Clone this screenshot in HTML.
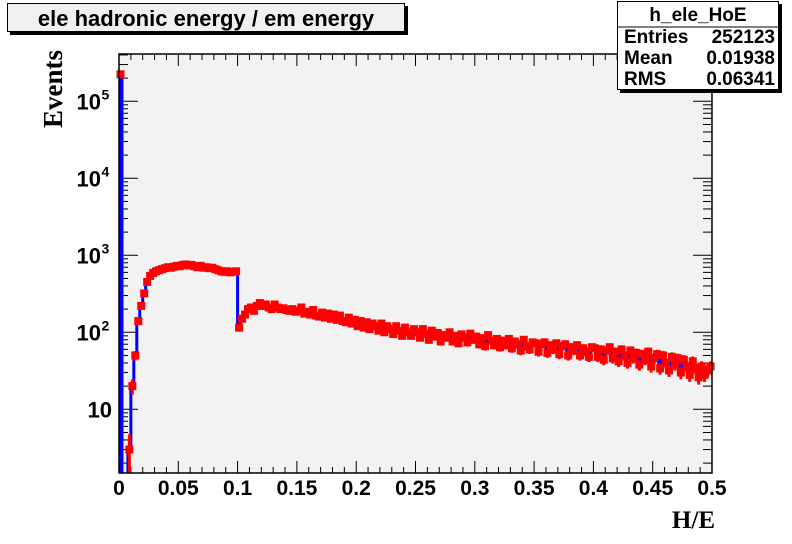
<!DOCTYPE html>
<html><head><meta charset="utf-8"><style>
html,body{margin:0;padding:0;background:#fff}
svg{display:block}
text{font-family:"Liberation Sans",Arial,sans-serif;font-weight:bold;fill:#000}
.serif{font-family:"Liberation Serif","Times New Roman",serif}
</style></head><body>
<svg id="chart" width="792" height="544" viewBox="0 0 792 544">
<rect x="0" y="0" width="792" height="544" fill="#fff"/>
<g>
<rect x="10" y="6" width="398" height="29" fill="#000"/>
<rect x="7.5" y="3.5" width="397" height="28" fill="#f0f0f0" stroke="#000" stroke-width="1"/>
<text x="206" y="26" text-anchor="middle" font-size="22">ele hadronic energy / em energy</text>
</g>
<rect x="119" y="54" width="593" height="419" fill="#f2f2f2"/>
<g id="axes"></g>
<g id="marks"></g>
<rect x="119" y="54" width="593" height="419" fill="none" stroke="#000" stroke-width="1.5"/>
<text x="62" y="89" transform="rotate(-90 62 89)" text-anchor="middle" class="serif" font-size="27">Events</text>
<text x="715" y="528" text-anchor="end" class="serif" font-size="25">H/E</text>
<g>
<rect x="620" y="4" width="162" height="89" fill="#000"/>
<rect x="617.5" y="1.5" width="161" height="88" fill="#fff" stroke="#000" stroke-width="1"/>
<line x1="617.5" y1="27" x2="778.5" y2="27" stroke="#000" stroke-width="1"/>
<text x="698" y="21" text-anchor="middle" font-size="19">h_ele_HoE</text>
<text x="624" y="43" font-size="19">Entries</text>
<text x="775" y="43" text-anchor="end" font-size="19">252123</text>
<text x="624" y="64" font-size="19">Mean</text>
<text x="775" y="64" text-anchor="end" font-size="19">0.01938</text>
<text x="624" y="85" font-size="19">RMS</text>
<text x="775" y="85" text-anchor="end" font-size="19">0.06341</text>
</g>
</svg>
<script>
const binWidth = 0.0025;
const xTickValues = [0,0.05,0.1,0.15,0.2,0.25,0.3,0.35,0.4,0.45,0.5];
const xTickLabels = ["0","0.05","0.1","0.15","0.2","0.25","0.3","0.35","0.4","0.45","0.5"];
const yDecades = [1,2,3,4,5];
const yTickLabels = ["10","10","10","10","10"];
const yTickSups = ["","2","3","4","5"];
const counts = [
224000,0,0,3,20,50,140,220,320,450,
540,590,620,640,660,680,700,690,710,730,
720,750,760,740,750,720,700,730,690,700,
680,690,660,640,620,610,620,600,610,620,
115,150,170,200,210,190,220,240,220,230,
210,200,230,210,200,205,195,190,200,185,
190,210,175,185,170,195,165,160,180,155,
175,150,170,145,165,140,135,155,130,145,
120,140,115,135,110,130,120,105,130,100,
120,110,95,120,105,90,115,100,90,110,
100,85,110,95,80,105,88,98,76,92,
85,100,76,90,72,94,85,74,96,80,
88,70,84,66,92,78,68,82,64,78,
68,82,62,76,70,58,80,66,60,74,
72,56,70,74,54,68,60,72,52,66,
70,50,64,58,68,50,62,56,48,64,
62,48,60,44,58,64,46,56,42,60,
50,40,58,46,54,38,52,44,56,36,
46,52,34,50,40,32,48,38,46,30,
44,36,28,42,34,26,36,28,32,36];

const X0=119,X1=712,Ytop=54,Ybot=473;
const xMin=0,xMax=0.5;
const dec1Y=409.3, pxPerDec=77;
function xs(v){return X0+(v-xMin)/(xMax-xMin)*(X1-X0);}
function ys(v){ if(v<=0) return Ybot+5; const y=dec1Y-(Math.log10(v)-1)*pxPerDec; return Math.min(Math.max(y,Ytop),Ybot+5);}
const NS="http://www.w3.org/2000/svg";
function mk(tag,attrs,parent){const e=document.createElementNS(NS,tag);for(const k in attrs)e.setAttribute(k,attrs[k]);parent.appendChild(e);return e;}
const axes=document.getElementById('axes');
const marks=document.getElementById('marks');

for(let i=0;i<=50;i++){
  const v=i*0.01; const x=xs(v);
  const major=(i%5===0); const len=major?12:6;
  const t=mk('line',{x1:x,y1:Ybot,x2:x,y2:Ybot-len,stroke:'#000','stroke-width':1},axes);
  
  
  const t2=mk('line',{x1:x,y1:Ytop,x2:x,y2:Ytop+len,stroke:'#000','stroke-width':1},axes);
  
  
}
xTickValues.forEach((v,i)=>{
  const t=mk('text',{x:xs(v),y:495,'text-anchor':'middle','font-size':21},axes);
  t.textContent=xTickLabels[i];
  
  
});
for(let d=0;d<=5;d++){
  for(let m=1;m<=9;m++){
    const v=m*Math.pow(10,d); const lv=Math.log10(v);
    const y=dec1Y-(lv-1)*pxPerDec;
    if(y<Ytop||y>Ybot) continue;
    const len=(m===1)?19:9;
    const t=mk('line',{x1:X0,y1:y,x2:X0+len,y2:y,stroke:'#000','stroke-width':1},axes);
    
    
    const t2=mk('line',{x1:X1,y1:y,x2:X1-len,y2:y,stroke:'#000','stroke-width':1},axes);
    
    
  }
}
yDecades.forEach((d,i)=>{
  const y=dec1Y-(d-1)*pxPerDec;
  const t=mk('text',{x:yTickSups[i]?101:112,y:y+8,'text-anchor':'end','font-size':22},axes);
  t.textContent=yTickLabels[i];
  
  
  if(yTickSups[i]){
    const s=mk('text',{x:101.5,y:y-2,'font-size':14},axes);
    s.textContent=yTickSups[i];
    
    
  }
});
let dPath='M'+X0+','+(Ybot+5);
counts.forEach((c,i)=>{
  const xa=xs(i*binWidth), xb=xs((i+1)*binWidth), y=ys(c);
  dPath+=' L'+xa+','+y+' L'+xb+','+y;
});
mk('clipPath',{id:'clip'},marks);
mk('rect',{x:X0,y:Ytop,width:X1-X0,height:Ybot-Ytop},document.getElementById('clip'));
const hist=mk('path',{d:dPath,fill:'none',stroke:'#0000ff','stroke-width':3,'clip-path':'url(#clip)'},marks);


counts.forEach((c,i)=>{
  if(c<=0) return;
  const xc=xs((i+0.5)*binWidth);
  const e=Math.sqrt(c);
  const y=ys(c), yl=ys(Math.max(c-e,0.01)), yh=ys(c+e);
  const eb=mk('line',{x1:xc,y1:yh,x2:xc,y2:yl,stroke:'#ff0000','stroke-width':3,'clip-path':'url(#clip)'},marks);
  
  
  const r=mk('rect',{x:xc-4,y:y-4,width:8,height:8,fill:'#ff0000'},marks);
  
  
});
</script>
</body></html>
